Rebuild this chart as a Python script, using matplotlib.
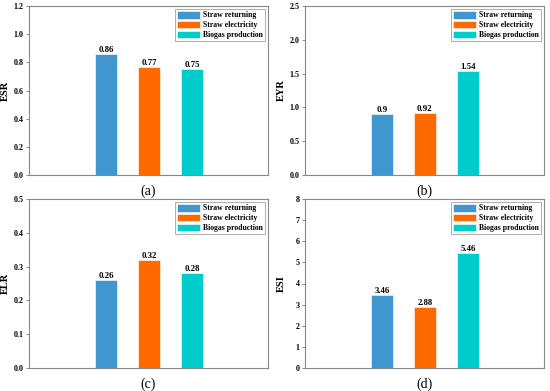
import matplotlib.pyplot as plt
import numpy as np

plt.rcParams['font.family'] = ['Liberation Serif', 'DejaVu Serif']

systems = ['Straw returning', 'Straw electricity', 'Biogas production']
colors = ['#4097cf', '#ff6a00', '#00cccc']

esr = [0.86, 0.77, 0.75]
eyr = [0.9, 0.92, 1.54]
elr = [0.26, 0.32, 0.28]
esi = [3.46, 2.88, 5.46]

panels = [
    ('ESR', esr, 1.2, 0.2, '%.1f', '(a)'),
    ('EYR', eyr, 2.5, 0.5, '%.1f', '(b)'),
    ('ELR', elr, 0.5, 0.1, '%.1f', '(c)'),
    ('ESI', esi, 8, 1, '%d', '(d)'),
]
axes_pos = [
    [29 / 550, 1 - 175 / 391, 239 / 550, 169 / 391],
    [305 / 550, 1 - 175 / 391, 239 / 550, 169 / 391],
    [29 / 550, 1 - 368 / 391, 239 / 550, 169 / 391],
    [305 / 550, 1 - 368 / 391, 239 / 550, 169 / 391],
]

fig = plt.figure(figsize=(5.5, 3.91), dpi=100)
x = np.arange(len(systems))

for (name, vals, ymax, step, fmt, tag), pos in zip(panels, axes_pos):
    ax = fig.add_axes(pos)
    bars = ax.bar(x, vals, width=0.5, color=colors, edgecolor='white',
                  linewidth=0.4, label=systems)
    for xi, v in zip(x, vals):
        ax.text(xi, v, str(v), ha='center', va='bottom', fontsize=6.3,
                fontweight='bold')
    ax.set_xlim(-1.79, 3.77)
    ax.set_ylim(0, ymax)
    ticks = np.arange(0, ymax + step / 2, step)
    ax.set_yticks(ticks)
    ax.set_yticklabels([fmt % t for t in ticks], fontsize=5.8, fontweight='bold')
    ax.set_xticks([])
    ax.tick_params(axis='y', direction='out', length=2, width=0.6, color='#777777', pad=2)
    for s in ax.spines.values():
        s.set_color('#888888')
        s.set_linewidth(0.8)
    ax.set_ylabel(name, fontsize=7.5, fontweight='bold')
    ax.yaxis.set_label_coords(-0.08, 0.5)
    ax.set_xlabel(tag, fontsize=10, labelpad=7)
    leg = ax.legend(bars, systems, loc='upper right',
                    prop={'weight': 'bold', 'size': 5.6}, fancybox=False,
                    edgecolor='#888888', handlelength=3.0, handleheight=1.1,
                    borderpad=0.25, labelspacing=0.2, handletextpad=0.4,
                    borderaxespad=0.4)
    leg.get_frame().set_linewidth(0.6)

plt.savefig('out.png', dpi=100)
